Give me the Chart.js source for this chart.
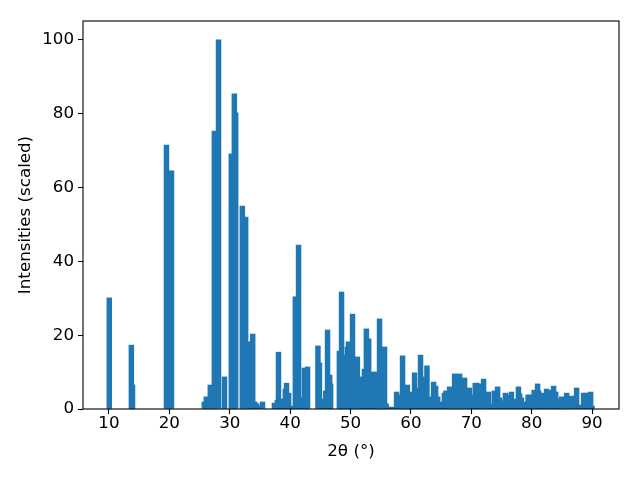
<!DOCTYPE html>
<html>
<head>
<meta charset="utf-8">
<script src="https://cdn.jsdelivr.net/npm/chart.js@4/dist/chart.umd.min.js"></script>
<style>
  html, body { margin: 0; padding: 0; background: #fff; }
  #wrap { width: 640px; height: 480px; }
</style>
</head>
<body>
<div id="wrap"><canvas id="xrdCanvas" width="640" height="480"></canvas></div>
<script>
// peak positions (2theta, degrees) and scaled intensities
var twoTheta = [
    10.05, 13.71, 13.9, 19.52, 20.35,
    25.79, 26.12, 26.78, 27.45, 28.14, 29.13, 30.26, 30.76, 30.98,
    32.08, 32.63, 33.41, 33.8, 34.15, 34.45, 34.6, 35.42,
    37.4, 37.88, 38.07, 38.42, 39.2, 39.4, 39.75, 40.3, 40.86, 41.39,
    41.9, 42.35, 42.88, 44.6, 44.85, 45.6, 45.9, 46.19, 46.54, 46.7,
    48.15, 48.51, 48.7, 49.48, 49.65, 50.33, 51.13, 51.63, 52.3, 52.62,
    53.0, 53.75, 54.0, 54.8, 55.63, 55.9, 56.3, 56.79, 57.62, 57.9,
    58.61, 59.41, 60.07, 60.6, 61.0, 61.59, 61.8, 62.1, 62.65, 63.1,
    63.75, 64.09, 64.43, 64.76, 65.54, 65.8, 66.4, 67.23, 68.06, 68.88,
    69.68, 70.0, 70.65, 70.9, 71.6, 72.03, 72.86, 73.3, 73.82, 74.35,
    74.69, 74.86, 75.65, 76.1, 76.64, 77.0, 77.3, 77.8, 78.0, 78.3,
    78.5, 78.85, 79.4, 79.7, 80.4, 80.97, 81.15, 81.3, 81.8, 82.46,
    82.9, 83.62, 83.97, 84.2, 84.95, 85.78, 86.12, 86.6, 87.43, 87.9,
    88.59, 88.94, 89.75, 90.0
];
var intensity = [
    30.1, 17.3, 6.5, 71.5, 64.5,
    1.9, 3.3, 6.5, 75.3, 100, 8.7, 69.1, 85.4, 80.2,
    55.0, 52.0, 18.2, 20.3, 1.9, 1.4, 0.8, 1.9,
    1.6, 2.4, 15.4, 2.7, 5.4, 7.0, 4.3, 0.8, 30.4, 44.4,
    3.0, 11.1, 11.4, 17.1, 12.5, 2.7, 4.9, 21.4, 9.2, 6.8,
    15.7, 31.7, 14.6, 16.8, 18.2, 25.7, 14.1, 8.7, 10.8, 21.7,
    19.0, 10.0, 10.0, 24.4, 16.8, 1.4, 0.5, 0.5, 4.6, 3.8,
    14.4, 6.5, 4.6, 9.8, 5.7, 14.6, 8.7, 8.1, 11.7, 3.3,
    7.3, 6.2, 3.3, 1.9, 4.3, 4.9, 6.0, 9.5, 9.5, 8.4,
    5.7, 3.8, 7.0, 7.0, 6.8, 8.1, 4.6, 1.4, 4.9, 6.0,
    3.0, 2.2, 4.3, 3.8, 4.6, 2.7, 0.3, 6.0, 4.1, 3.0,
    1.1, 1.9, 3.8, 3.8, 5.1, 6.8, 4.9, 1.6, 4.3, 5.4,
    5.1, 6.2, 4.6, 2.7, 3.3, 4.3, 2.2, 3.5, 5.7, 1.1,
    4.3, 4.3, 4.6, 0.8
];
var xTicks = [10, 20, 30, 40, 50, 60, 70, 80, 90];
var yTicks = [0, 20, 40, 60, 80, 100];

var points = twoTheta.map(function (t, i) {
    return { x: t, y: intensity[i] };
});

// frame round the plot area, like matplotlib's spines
var frame = {
    id: 'frame',
    afterDraw: function (chart) {
        var a = chart.chartArea, ctx = chart.ctx;
        ctx.save();
        ctx.strokeStyle = '#000';
        ctx.lineWidth = 1.1;
        ctx.strokeRect(a.left, a.top, a.right - a.left, a.bottom - a.top);
        ctx.restore();
    }
};

var fontSpec = { family: 'DejaVu Sans', size: 16.7 };

new Chart('xrdCanvas', {
    type: 'bar',
    data: {
        datasets: [{
            data: points,
            backgroundColor: '#1f77b4',
            borderWidth: 0,
            barThickness: 4.83,
            grouped: false
        }]
    },
    options: {
        responsive: false,
        animation: false,
        layout: { padding: { top: 21, right: 21, left: 0, bottom: 0 } },
        plugins: { legend: { display: false }, tooltip: { enabled: false } },
        scales: {
            x: {
                type: 'linear',
                min: 5.7,
                max: 94.45,
                offset: false,
                afterFit: function (s) { s.height = 71; },
                afterBuildTicks: function (s) {
                    s.ticks = xTicks.map(function (v) { return { value: v }; });
                },
                grid: { offset: false, drawOnChartArea: false, tickLength: 5, color: '#000', tickWidth: 1.1 },
                border: { display: false },
                ticks: { color: '#000', font: fontSpec, padding: 0, maxRotation: 0 },
                title: { display: true, text: '2θ (°)', color: '#000', font: fontSpec, padding: { top: 0, bottom: 18 } }
            },
            y: {
                min: 0,
                max: 105.1,
                afterFit: function (s) { s.width = 83; },
                afterBuildTicks: function (s) {
                    s.ticks = yTicks.map(function (v) { return { value: v }; });
                },
                grid: { drawOnChartArea: false, tickLength: 5, color: '#000', tickWidth: 1.1 },
                border: { display: false },
                ticks: { color: '#000', font: fontSpec, padding: 4 },
                title: { display: true, text: 'Intensities (scaled)', color: '#000', font: fontSpec, padding: { top: 16, bottom: 0 } }
            }
        }
    },
    plugins: [frame]
});
</script>
</body>
</html>
